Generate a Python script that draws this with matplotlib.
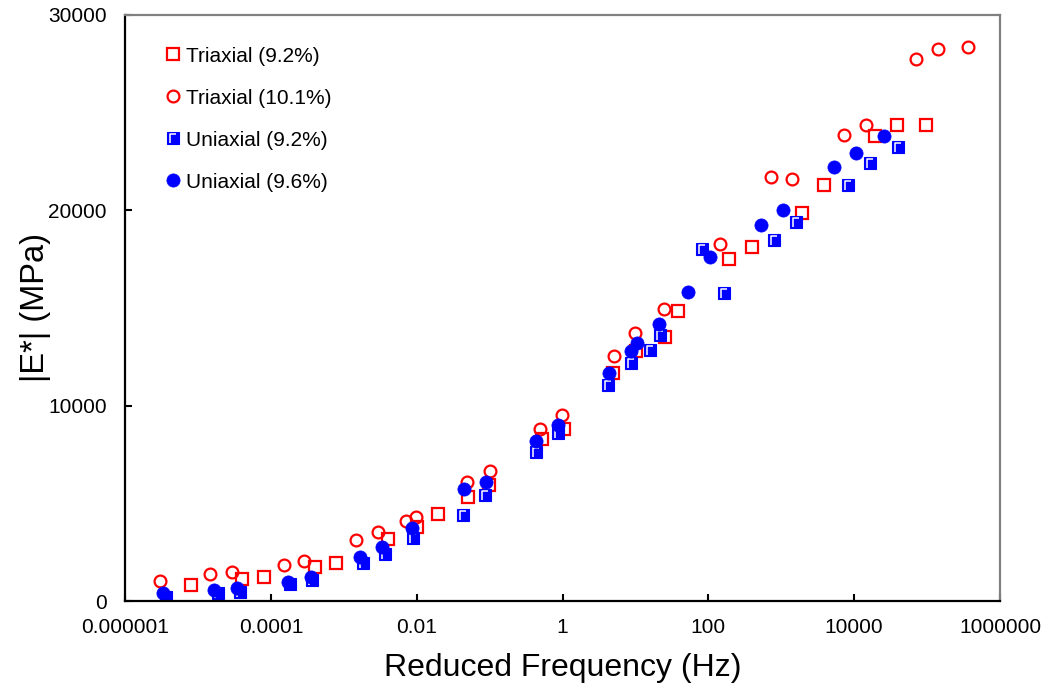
import matplotlib
matplotlib.use("Agg")
import matplotlib.pyplot as plt
import numpy as np
from matplotlib.path import Path
from matplotlib.lines import Line2D
from matplotlib.legend_handler import HandlerTuple
from matplotlib.ticker import FixedLocator, FixedFormatter, NullLocator

plt.rcParams['font.family'] = ['Liberation Sans', 'DejaVu Sans']

# reduced frequency (Hz) and |E*| (MPa)
tri92_f = [7.96e-6, 3.99e-5, 8.07e-5, 4.04e-4, 7.83e-4, 4.06e-3, 1.02e-2, 1.95e-2,
           5.02e-2, 9.93e-2, 0.520, 1.05, 4.99, 10.2, 25.5, 38.2, 195, 395,
           1919, 3873, 19410, 38530, 97260]
tri92_e = [834, 1125, 1243, 1754, 1959, 3171, 3800, 4435,
           5335, 5949, 8286, 8798, 11647, 12788, 13519, 14849, 17509, 18122,
           19862, 21294, 23800, 24347, 24347]

tri101_f = [3.02e-6, 1.47e-5, 2.91e-5, 1.52e-4, 2.88e-4, 1.48e-3, 2.92e-3, 7.16e-3,
            9.82e-3, 4.95e-2, 0.1016, 0.493, 0.977, 5.02, 9.91, 24.8, 145, 720,
            1397, 7225, 14460, 70800, 140600, 363000]
tri101_e = [1038, 1366, 1468, 1841, 2061, 3120, 3514, 4107,
            4312, 6087, 6634, 8798, 9514, 12557, 13734, 14936, 18261, 21688,
            21585, 23836, 24347, 27723, 28235, 28353]

uni92_f = [3.65e-6, 1.86e-5, 3.72e-5, 1.83e-4, 3.64e-4, 1.82e-3, 3.69e-3, 8.83e-3,
           4.28e-2, 8.67e-2, 0.435, 0.879, 4.26, 8.65, 15.9, 21.8, 82.2, 165,
           800, 1600, 8356, 16560, 40360]
uni92_e = [230, 409, 486, 870, 1074, 1959, 2404, 3248,
           4414, 5437, 7637, 8619, 11048, 12199, 12839, 13606, 18030, 15770,
           18481, 19401, 21278, 22419, 23237]

uni96_f = [3.35e-6, 1.66e-5, 3.40e-5, 1.74e-4, 3.52e-4, 1.67e-3, 3.32e-3, 8.73e-3,
           4.43e-2, 8.81e-2, 0.435, 0.879, 4.32, 8.65, 10.5, 21.3, 52.0, 105,
           525, 1052, 5321, 10640, 25820]
uni96_e = [394, 563, 650, 987, 1243, 2266, 2777, 3734,
           5754, 6072, 8184, 9002, 11647, 12813, 13197, 14153, 15821, 17611,
           19232, 20000, 22215, 22931, 23800]

labels = ['Triaxial (9.2%)', 'Triaxial (10.1%)', 'Uniaxial (9.2%)', 'Uniaxial (9.6%)']
xticks = [1e-6, 1e-4, 1e-2, 1, 1e2, 1e4, 1e6]
xticklabels = ['0.000001', '0.0001', '0.01', '1', '100', '10000', '1000000']
yticks = [0, 10000, 20000, 30000]

# white "L" highlight drawn inside the blue squares
L_marker = Path([(0.5, 0.5), (-0.27, -0.36), (-0.27, 0.28), (0.24, 0.28)],
                [Path.MOVETO, Path.MOVETO, Path.LINETO, Path.LINETO])

fig = plt.figure(figsize=(10.48, 6.92), dpi=100)
ax = fig.add_axes([0.1193, 0.1315, 0.8349, 0.8475])

ax.plot(tri92_f, tri92_e, ls='none', marker='s', ms=9, mfc='none', mec='#ff0000', mew=1.6)
ax.plot(tri101_f, tri101_e, ls='none', marker='o', ms=8.5, mfc='none', mec='#ff0000', mew=1.6)
ax.plot(uni92_f, uni92_e, ls='none', marker='s', ms=9, mfc='#0000ff', mec='#0000ff', mew=0.8)
ax.plot(uni92_f, uni92_e, ls='none', marker=L_marker, ms=9, mfc='none', mec='white', mew=1.1)
ax.plot(uni96_f, uni96_e, ls='none', marker='o', ms=9.5, mfc='#0000ff', mec='#0000ff', mew=0.5)

ax.set_xscale('log')
ax.set_xlim(1e-6, 1e6)
ax.set_ylim(0, 30000)
ax.xaxis.set_major_locator(FixedLocator(xticks))
ax.xaxis.set_major_formatter(FixedFormatter(xticklabels))
ax.xaxis.set_minor_locator(NullLocator())
ax.set_yticks(yticks)
ax.set_yticklabels([str(v) for v in yticks])

ax.tick_params(axis='both', direction='in', length=5, width=1.5, labelsize=15,
               top=False, right=False, colors='black')
ax.tick_params(axis='x', pad=12)
ax.tick_params(axis='y', pad=13)

for side in ['left', 'bottom']:
    ax.spines[side].set_color('black')
    ax.spines[side].set_linewidth(1.6)
for side in ['top', 'right']:
    ax.spines[side].set_color('#808080')
    ax.spines[side].set_linewidth(1.6)

ax.set_xlabel('Reduced Frequency (Hz)', fontsize=23, labelpad=12)
ax.set_ylabel('|E*| (MPa)', fontsize=23.5, labelpad=-2)

h1 = Line2D([], [], ls='none', marker='s', ms=9, mfc='none', mec='#ff0000', mew=1.6)
h2 = Line2D([], [], ls='none', marker='o', ms=8.5, mfc='none', mec='#ff0000', mew=1.6)
h3a = Line2D([], [], ls='none', marker='s', ms=9, mfc='#0000ff', mec='#0000ff', mew=0.8)
h3b = Line2D([], [], ls='none', marker=L_marker, ms=9, mfc='none', mec='white', mew=1.1)
h4 = Line2D([], [], ls='none', marker='o', ms=9.5, mfc='#0000ff', mec='#0000ff', mew=0.5)
ax.legend([h1, h2, (h3a, h3b), h4], labels, handler_map={tuple: HandlerTuple(ndivide=1)},
          loc='upper left', bbox_to_anchor=(0.046, 0.945), frameon=False, fontsize=15,
          handlelength=0.7, handletextpad=0.3, labelspacing=1.1, borderpad=0,
          borderaxespad=0)

fig.savefig('out.png', dpi=100)
